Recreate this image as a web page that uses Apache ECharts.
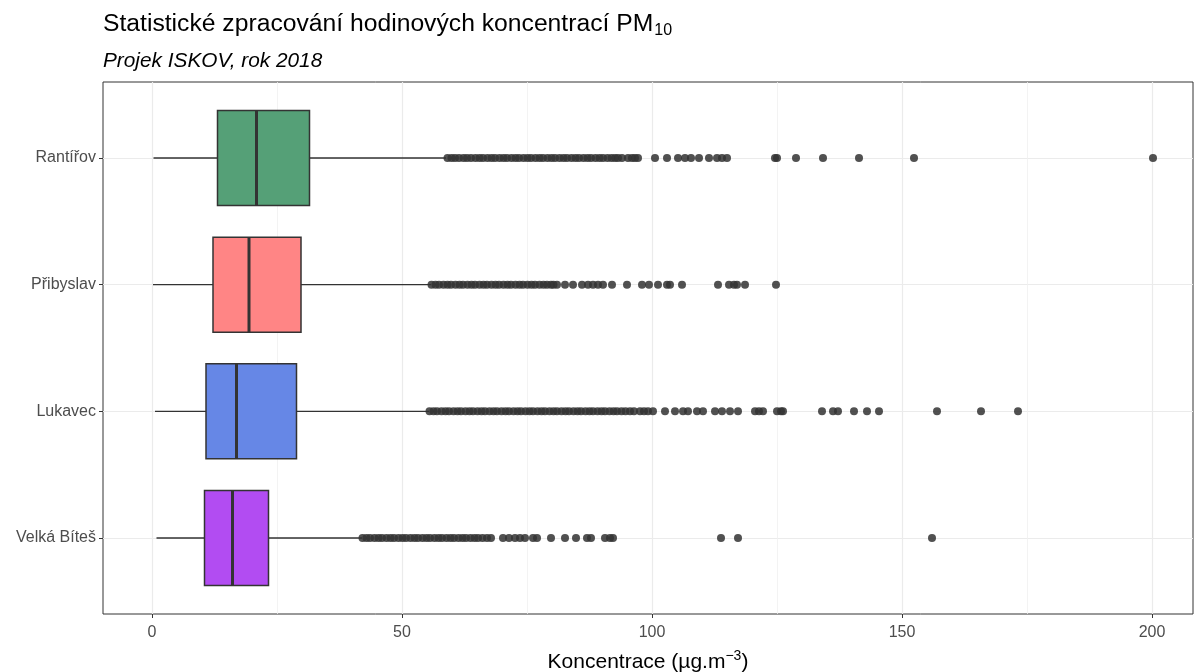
<!DOCTYPE html>
<html>
<head>
<meta charset="utf-8">
<script src="https://cdn.jsdelivr.net/npm/echarts@6/dist/echarts.min.js"></script>
<style>
html,body{margin:0;padding:0;background:#fff;}
#chart{width:1194px;height:672px;}
</style>
</head>
<body>
<div id="chart"></div>
<script>
// Stations, listed from top to bottom as in the chart
const stations = ['Rantířov', 'Přibyslav', 'Lukavec', 'Velká Bíteš'];
const boxColors = ['#55a077', '#ff8585', '#6687e6', '#b24cf2'];

// [lower whisker, Q1, median, Q3, upper whisker]
const statsRantirov = [0.3, 13.1, 20.9, 31.5, 58.8];
const statsPribyslav = [0.2, 12.2, 19.4, 29.8, 55.8];
const statsLukavec = [0.6, 10.8, 16.9, 28.9, 55.4];
const statsVelkaBites = [0.9, 10.5, 16.1, 23.3, 42.0];

// Outliers
const outRantirov = [59.1, 59.9, 60.6, 61.4, 62.3, 63.0, 63.8, 64.7, 65.5, 66.2, 67.1, 67.9, 68.6, 69.5, 70.3, 71.0, 71.9, 72.7, 73.4, 74.3, 75.1, 75.8, 76.7, 77.5, 78.2, 79.1, 79.9, 80.6, 81.5, 82.3, 83.0, 83.9, 84.7, 85.4, 86.3, 87.1, 87.8, 88.7, 89.5, 90.2, 91.1, 91.9, 92.6, 93.2, 94.0, 95.2, 96.0, 96.6, 97.2, 100.6, 103.0, 105.2, 106.6, 107.8, 109.4, 111.4, 113.0, 114.0, 115.0, 124.6, 125.0, 128.8, 134.2, 141.4, 152.4, 200.2];
const outPribyslav = [55.9, 56.7, 57.4, 58.3, 59.1, 59.8, 60.7, 61.5, 62.2, 63.1, 63.9, 64.6, 65.5, 66.3, 67.0, 67.9, 68.7, 69.4, 70.3, 71.1, 71.8, 72.7, 73.5, 74.2, 75.1, 75.9, 76.6, 77.5, 78.3, 79.0, 79.8, 80.3, 81.0, 82.6, 84.2, 86.0, 87.2, 88.2, 89.2, 90.2, 92.0, 95.0, 98.0, 99.4, 101.2, 103.0, 103.6, 106.0, 113.2, 115.4, 116.4, 117.0, 118.6, 124.8];
const outLukavec = [55.5, 56.3, 57.0, 57.9, 58.7, 59.4, 60.3, 61.1, 61.8, 62.7, 63.5, 64.2, 65.1, 65.9, 66.6, 67.5, 68.3, 69.0, 69.9, 70.7, 71.4, 72.3, 73.1, 73.8, 74.7, 75.5, 76.2, 77.1, 77.9, 78.6, 79.5, 80.3, 81.0, 81.9, 82.7, 83.4, 84.3, 85.1, 85.8, 86.7, 87.5, 88.2, 89.1, 89.9, 90.6, 91.5, 92.3, 93.0, 93.9, 94.7, 95.6, 96.4, 97.6, 98.4, 99.2, 100.2, 102.6, 104.6, 106.2, 107.2, 109.0, 110.2, 112.6, 114.0, 115.6, 117.2, 120.6, 121.4, 122.2, 125.0, 125.8, 126.2, 134.0, 136.2, 137.2, 140.4, 143.0, 145.4, 157.0, 165.8, 173.2];
const outVelkaBites = [42.1, 42.9, 43.6, 44.5, 45.3, 46.0, 46.9, 47.7, 48.4, 49.3, 50.1, 50.8, 51.7, 52.5, 53.2, 54.1, 54.9, 55.6, 56.5, 57.3, 58.0, 58.9, 59.7, 60.4, 61.3, 62.1, 62.8, 63.7, 64.5, 65.2, 66.1, 67.0, 67.8, 70.2, 71.4, 72.6, 73.6, 74.6, 76.2, 77.0, 79.8, 82.6, 84.8, 87.0, 87.8, 90.6, 91.6, 92.2, 113.8, 117.2, 156.0];

const xTicks = [0, 50, 100, 150, 200];
const xMinorGrid = [25, 75, 125, 175];

const allStats = [statsRantirov, statsPribyslav, statsLukavec, statsVelkaBites];
const allOut = [outRantirov, outPribyslav, outLukavec, outVelkaBites];

// y position of station i (top = highest)
const yPos = i => stations.length - i;
const yTicks = stations.map((s, i) => yPos(i));

const boxData = allStats.map((s, i) => ({
  value: [yPos(i)].concat(s),
  itemStyle: { color: boxColors[i] }
}));
const outData = [];
allOut.forEach((arr, i) => arr.forEach(v => outData.push([v, yPos(i)])));

const FONT = 'Liberation Sans, Arial, sans-serif';

const chart = echarts.init(document.getElementById('chart'), null, { renderer: 'canvas' });

const option = {
  backgroundColor: '#ffffff',
  animation: false,
  title: [
    {
      left: 103, top: 10, padding: 0,
      text: 'Statistické zpracování hodinových koncentrací PM{sub|10}',
      textStyle: {
        fontFamily: FONT, fontSize: 24.7, fontWeight: 'normal', color: '#000',
        rich: { sub: { fontFamily: FONT, fontSize: 16, color: '#000', padding: [13, 0, 0, 1] } }
      }
    },
    {
      left: 103, top: 51, padding: 0,
      text: 'Projek ISKOV, rok 2018',
      textStyle: { fontFamily: FONT, fontSize: 20.8, fontStyle: 'italic', fontWeight: 'normal', color: '#000' }
    }
  ],
  grid: {
    left: 103, right: 1, top: 82, bottom: 58,
    outerBoundsMode: 'none',
    containLabel: false,
    show: true, borderColor: '#333333', borderWidth: 1, backgroundColor: '#ffffff'
  },
  xAxis: [
    {
      type: 'value', min: -9.8, max: 208.2,
      axisLine: { show: false, onZero: false },
      axisTick: { show: true, length: 4, customValues: xTicks, lineStyle: { color: '#333333', width: 1 } },
      axisLabel: { customValues: xTicks, fontFamily: FONT, fontSize: 16, color: '#4d4d4d', margin: 11 },
      splitLine: { show: true, lineStyle: { color: '#ebebeb', width: 1.2 } },
      name: 'Koncentrace (µg.m{sup|−3})',
      nameLocation: 'middle', nameGap: 35,
      nameTextStyle: {
        fontFamily: FONT, fontSize: 21, color: '#000',
        rich: { sup: { fontFamily: FONT, fontSize: 14, color: '#000', padding: [0, 0, 13, 0] } }
      }
    },
    {
      type: 'value', min: -9.8, max: 208.2, position: 'bottom',
      axisLine: { show: false, onZero: false },
      axisTick: { show: false, customValues: xMinorGrid },
      axisLabel: { show: false, customValues: xMinorGrid },
      splitLine: { show: true, lineStyle: { color: '#f0f0f0', width: 0.8 } }
    }
  ],
  yAxis: {
    type: 'value', min: 0.4, max: 4.6,
    axisLine: { show: false, onZero: false },
    axisTick: { show: true, length: 4, customValues: yTicks, lineStyle: { color: '#333333', width: 1 } },
    axisLabel: {
      customValues: yTicks, fontFamily: FONT, fontSize: 16, color: '#4d4d4d', margin: 7,
      formatter: v => stations[stations.length - Math.round(v)]
    },
    splitLine: { show: true, lineStyle: { color: '#ebebeb', width: 1.2 } }
  },
  series: [
    {
      type: 'custom',
      xAxisIndex: 0,
      encode: { x: [1, 2, 3, 4, 5], y: 0 },
      data: boxData,
      z: 3,
      renderItem: function (params, api) {
        const y = api.value(0);
        const lo = api.coord([api.value(1), y]);
        const q1 = api.coord([api.value(2), y]);
        const md = api.coord([api.value(3), y]);
        const q3 = api.coord([api.value(4), y]);
        const hi = api.coord([api.value(5), y]);
        const h = api.size([0, 0.75])[1];
        const top = lo[1] - h / 2;
        const fill = boxColors[params.dataIndex];
        const stroke = '#333333';
        return {
          type: 'group',
          children: [
            { type: 'line', shape: { x1: lo[0], y1: lo[1], x2: q1[0], y2: q1[1] }, style: { stroke: stroke, lineWidth: 1.3 } },
            { type: 'line', shape: { x1: q3[0], y1: q3[1], x2: hi[0], y2: hi[1] }, style: { stroke: stroke, lineWidth: 1.3 } },
            { type: 'rect', shape: { x: q1[0], y: top, width: q3[0] - q1[0], height: h }, style: { fill: fill, stroke: stroke, lineWidth: 1.5 } },
            { type: 'line', shape: { x1: md[0], y1: top, x2: md[0], y2: top + h }, style: { stroke: stroke, lineWidth: 3 } }
          ]
        };
      }
    },
    {
      type: 'scatter',
      xAxisIndex: 0,
      data: outData,
      symbol: 'circle',
      symbolSize: 8,
      z: 4,
      itemStyle: { color: '#333333', opacity: 0.85 }
    }
  ]
};
chart.setOption(option);
</script>
</body>
</html>
